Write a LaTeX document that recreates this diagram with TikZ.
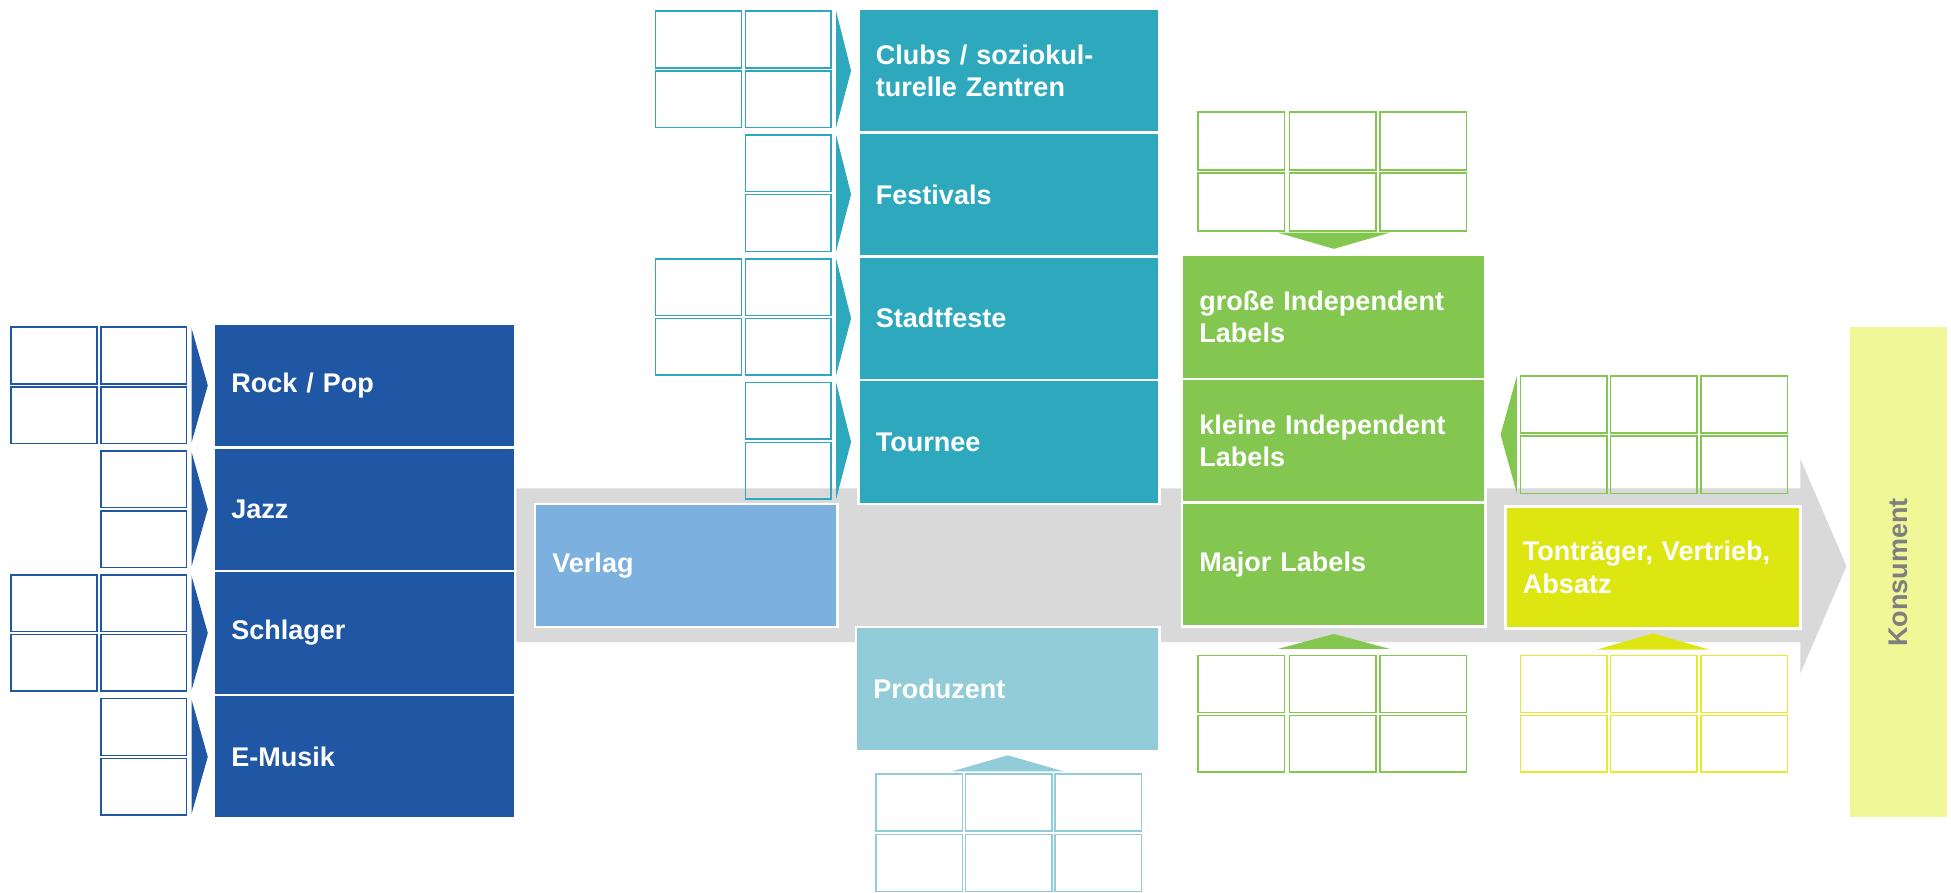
\documentclass[tikz,border=0pt]{standalone}
\usepackage{fontspec}
\setmainfont{Liberation Sans}
\definecolor{genre}{HTML}{1F57A5}
\definecolor{venue}{HTML}{2DA8BD}
\definecolor{publish}{HTML}{7CB0DE}
\definecolor{produce}{HTML}{91CCD8}
\definecolor{indie}{HTML}{83C750}
\definecolor{sales}{HTML}{DEE612}
\definecolor{salesline}{HTML}{E4EA2C}
\definecolor{consume}{HTML}{F0F797}
\definecolor{consumetext}{HTML}{7F7F7F}
\definecolor{flowgrey}{HTML}{D9D9D9}
\newcommand\stagefont{\fontsize{21.7}{26}\selectfont\bfseries}
\tikzset{
  stage/.style={draw=white, line width=2pt, outer sep=0pt, inner xsep=14pt,
    inner ysep=0pt, minimum height=99.5pt, anchor=north west, text=white,
    font=\stagefont, align=left, text width=#1},
  slot/.style={draw=#1, line width=1.2pt},
}
\begin{document}
\begin{tikzpicture}[x=1pt,y=-1pt]
    \useasboundingbox (0,0) rectangle (1568,717);
    % value chain arrow
    \fill[flowgrey] (415,392.5) -- (1447,392.5) -- (1447,369) -- (1484,455)
        -- (1447,541) -- (1447,516) -- (415,516) -- cycle;
    % genres
    \node[stage=214pt, fill=genre] (rock) at (172,260) {Rock / Pop};
    \node[stage=214pt, fill=genre] (jazz) at (172,359.5) {Jazz};
    \node[stage=214pt, fill=genre] (schlager) at (172,459) {Schlager};
    \node[stage=214pt, fill=genre] (emusik) at (172,558.5) {E-Musik};
    % live venues
    \node[stage=214pt, fill=venue] (clubs) at (690,7) {Clubs / soziokul-\\turelle Zentren};
    \node[stage=214pt, fill=venue] (festivals) at (690,106.5) {Festivals};
    \node[stage=214pt, fill=venue] (stadtfeste) at (690,206) {Stadtfeste};
    \node[stage=214pt, fill=venue] (tournee) at (690,305.5) {Tournee};
    % publishing and production
    \node[stage=215pt, fill=publish, minimum height=99pt] (verlag) at (430,405) {Verlag};
    \node[stage=216pt, fill=produce, minimum height=100pt] (produzent) at (688,504) {Produzent};
    % labels
    \node[stage=216pt, fill=indie] (grosse) at (950,205) {große Independent\\Labels};
    \node[stage=216pt, fill=indie] (kleine) at (950,304.5) {kleine Independent\\Labels};
    \node[stage=216pt, fill=indie] (major) at (950,404) {Major Labels};
    \node[stage=209pt, fill=sales, minimum height=98pt] (tontraeger) at (1210,407) {Tonträger, Vertrieb,\\Absatz};
    % consumer
    \node[fill=consume, rotate=90, minimum width=394pt, minimum height=78pt,
        inner sep=0pt, text=consumetext, font=\stagefont] (konsument) at (1526,460) {Konsument};
    % slots left of genres
    \foreach \t/\c in {260/9, 359.5/81, 459/9, 558.5/81}
        \foreach \x in {\c,81}
            \foreach \r in {3,51}
                \draw[slot=genre] (\x,\t+\r) rectangle ++(69,45.5);
    % slots left of venues
    \foreach \t/\c in {7/527, 106.5/599, 206/527, 305.5/599}
        \foreach \x in {\c,599}
            \foreach \r in {2,50}
                \draw[slot=venue] (\x,\t+\r) rectangle ++(69,45.5);
    % slot grids
    \foreach \x in {704,776,848}
        \foreach \y in {622,670.5}
            \draw[slot=produce] (\x,\y) rectangle ++(69.5,46);
    \foreach \x in {963,1036.5,1109} {
        \foreach \y in {90,139}
            \draw[slot=indie] (\x,\y) rectangle ++(69.5,46.5);
        \foreach \y in {527,575}
            \draw[slot=indie] (\x,\y) rectangle ++(69.5,45.5);
    }
    \foreach \x in {1222,1294.5,1367} {
        \foreach \y in {302,350.5}
            \draw[slot=indie] (\x,\y) rectangle ++(69.5,46);
        \foreach \y in {527,575}
            \draw[slot=salesline] (\x,\y) rectangle ++(69.5,45.5);
    }
    % chevrons
    \foreach \n in {rock,jazz,schlager,emusik}
        \fill[genre] ([shift={(-18pt,-4pt)}]\n.north west) -- ([xshift=-5pt]\n.west)
            -- ([shift={(-18pt,4pt)}]\n.south west) -- cycle;
    \foreach \n in {clubs,festivals,stadtfeste,tournee}
        \fill[venue] ([shift={(-18pt,-2pt)}]\n.north west) -- ([xshift=-6pt]\n.west)
            -- ([shift={(-18pt,4pt)}]\n.south west) -- cycle;
    \fill[indie] ([shift={(12pt,5pt)}]kleine.east) -- ++(13pt,47pt) -- ++(0pt,-94pt) -- cycle;
    % triangles
    \fill[produce] ([yshift=-3pt]produzent.south) -- ++(45pt,-13pt) -- ++(-90pt,0pt) -- cycle;
    \fill[indie] ([yshift=5pt]grosse.north) -- ++(45pt,13pt) -- ++(-90pt,0pt) -- cycle;
    \fill[indie] ([yshift=-6pt]major.south) -- ++(45pt,-12pt) -- ++(-90pt,0pt) -- cycle;
    \fill[sales] ([yshift=-4pt]tontraeger.south) -- ++(45pt,-13pt) -- ++(-90pt,0pt) -- cycle;
\end{tikzpicture}
\end{document}
